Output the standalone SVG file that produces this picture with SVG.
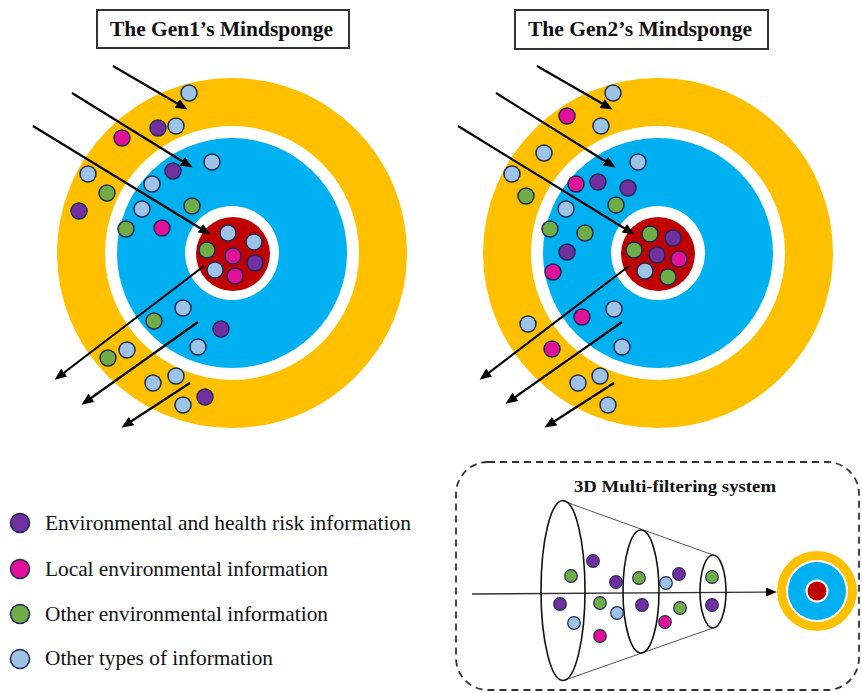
<svg xmlns="http://www.w3.org/2000/svg" width="862" height="693" viewBox="0 0 862 693">
<style>
.yl{fill:#FFC000}.bl{fill:#00B0F0}.wh{fill:#fff}.rd{fill:#C00000}
.d{stroke:#1F2A55;stroke-width:1.5}
.lb{fill:#9DC3E6}.pu{fill:#7030A0}.mg{fill:#E2119A}.gr{fill:#70AD47}
.ttl{font-family:"Liberation Serif","DejaVu Serif","Noto Serif",serif;font-weight:bold;font-size:20px;fill:#111}
.lg{font-family:"Liberation Serif","DejaVu Serif","Noto Serif",serif;font-size:21px;fill:#111}
.box{fill:#fff;stroke:#333;stroke-width:2}
.arr{stroke:#000;stroke-width:2.2;fill:none;marker-end:url(#ah)}
.sd{stroke:#1F2A55;stroke-width:1.2}
</style>
<defs>
<marker id="ah" viewBox="0 0 12 10" refX="9" refY="5" markerWidth="12" markerHeight="10" markerUnits="userSpaceOnUse" orient="auto"><path d="M0,0 L12,5 L0,10 z" fill="#000"/></marker>
<marker id="ah2" viewBox="0 0 12 10" refX="10" refY="5" markerWidth="11" markerHeight="9" markerUnits="userSpaceOnUse" orient="auto"><path d="M0,0 L12,5 L0,10 z" fill="#000"/></marker>
</defs>
<rect width="862" height="693" fill="#fff"/>

<g id="title-gen1"><rect class="box" x="97" y="10" width="252" height="38"/><text class="ttl" x="110" y="36" textLength="223" lengthAdjust="spacingAndGlyphs">The Gen1’s Mindsponge</text></g>
<g id="title-gen2"><rect class="box" x="515" y="10" width="253" height="39"/><text class="ttl" x="528" y="36" textLength="224" lengthAdjust="spacingAndGlyphs">The Gen2’s Mindsponge</text></g>

<g id="mindsponge-gen1">
<circle class="yl" cx="232" cy="253" r="175"/><circle class="wh" cx="232" cy="253" r="127"/><circle class="bl" cx="232" cy="253" r="115"/><circle class="wh" cx="232" cy="253" r="47"/><circle class="rd" cx="233" cy="254" r="37"/>
</g>
<g id="mindsponge-gen2">
<circle class="yl" cx="658" cy="253" r="175"/><circle class="wh" cx="658" cy="253" r="127"/><circle class="bl" cx="658" cy="253" r="115"/><circle class="wh" cx="658" cy="253" r="47"/><circle class="rd" cx="658" cy="254" r="37"/>
</g>

<g id="connectors">
<line class="arr" x1="113" y1="66" x2="185" y2="108"/>
<line class="arr" x1="72" y1="93" x2="190" y2="166"/>
<line class="arr" x1="33" y1="126" x2="208" y2="233"/>
<line class="arr" x1="204" y1="266" x2="57" y2="378"/>
<line class="arr" x1="198" y1="322" x2="84" y2="403"/>
<line class="arr" x1="190" y1="383" x2="124" y2="426"/>
<line class="arr" x1="537" y1="66" x2="610" y2="108"/>
<line class="arr" x1="496" y1="93" x2="613" y2="166"/>
<line class="arr" x1="458" y1="126" x2="632" y2="233"/>
<line class="arr" x1="629" y1="266" x2="482" y2="378"/>
<line class="arr" x1="622" y1="322" x2="508" y2="402"/>
<line class="arr" x1="614" y1="383" x2="547" y2="426"/>
<line x1="472" y1="594" x2="775" y2="592" stroke="#333" stroke-width="1.3" marker-end="url(#ah2)"/>
</g>

<g id="info-gen1">
<g class="d lb"><circle cx="189" cy="93" r="8"/><circle cx="176" cy="126" r="8"/><circle cx="88" cy="174" r="8"/><circle cx="152" cy="184" r="8"/><circle cx="212" cy="162" r="8"/><circle cx="142" cy="209" r="8"/><circle cx="183" cy="308" r="8"/><circle cx="198" cy="347" r="8"/><circle cx="127" cy="350" r="8"/><circle cx="153" cy="383" r="8"/><circle cx="176" cy="376" r="8"/><circle cx="183" cy="405" r="8"/><circle cx="228" cy="233" r="8"/><circle cx="254" cy="242" r="8"/><circle cx="215" cy="270" r="8"/></g>
<g class="d pu"><circle cx="158" cy="128" r="8"/><circle cx="79" cy="211" r="8"/><circle cx="173" cy="171" r="8"/><circle cx="221" cy="329" r="8"/><circle cx="205" cy="397" r="8"/><circle cx="255" cy="263" r="8"/></g>
<g class="d mg"><circle cx="122" cy="138" r="8"/><circle cx="162" cy="228" r="8"/><circle cx="233" cy="256" r="8"/><circle cx="235" cy="276" r="8"/></g>
<g class="d gr"><circle cx="107" cy="193" r="8"/><circle cx="192" cy="206" r="8"/><circle cx="126" cy="229" r="8"/><circle cx="154" cy="321" r="8"/><circle cx="108" cy="358" r="8"/><circle cx="207" cy="250" r="8"/></g>
</g>

<g id="info-gen2">
<g class="d lb"><circle cx="613" cy="93" r="8"/><circle cx="601" cy="126" r="8"/><circle cx="544" cy="153" r="8"/><circle cx="512" cy="174" r="8"/><circle cx="638" cy="162" r="8"/><circle cx="566" cy="209" r="8"/><circle cx="614" cy="309" r="8"/><circle cx="528" cy="324" r="8"/><circle cx="622" cy="347" r="8"/><circle cx="578" cy="383" r="8"/><circle cx="600" cy="376" r="8"/><circle cx="608" cy="405" r="8"/><circle cx="645" cy="271" r="8"/></g>
<g class="d mg"><circle cx="567" cy="116" r="8"/><circle cx="576" cy="184" r="8"/><circle cx="553" cy="272" r="8"/><circle cx="582" cy="317" r="8"/><circle cx="552" cy="349" r="8"/><circle cx="679" cy="259" r="8"/></g>
<g class="d pu"><circle cx="598" cy="182" r="8"/><circle cx="628" cy="188" r="8"/><circle cx="567" cy="252" r="8"/><circle cx="673" cy="238" r="8"/><circle cx="657" cy="255" r="8"/></g>
<g class="d gr"><circle cx="526" cy="196" r="8"/><circle cx="616" cy="205" r="8"/><circle cx="550" cy="229" r="8"/><circle cx="585" cy="233" r="8"/><circle cx="634" cy="250" r="8"/><circle cx="650" cy="234" r="8"/><circle cx="668" cy="277" r="8"/></g>
</g>

<g id="legend">
<g id="legend-risk"><circle class="d pu" cx="20" cy="523" r="9.5"/><text class="lg" x="45" y="530" textLength="366" lengthAdjust="spacingAndGlyphs">Environmental and health risk information</text></g>
<g id="legend-local"><circle class="d mg" cx="20" cy="569" r="9.5"/><text class="lg" x="45" y="576" textLength="283" lengthAdjust="spacingAndGlyphs">Local environmental information</text></g>
<g id="legend-other-env"><circle class="d gr" cx="20" cy="614" r="9.5"/><text class="lg" x="45" y="621" textLength="283" lengthAdjust="spacingAndGlyphs">Other environmental information</text></g>
<g id="legend-other"><circle class="d lb" cx="20" cy="659" r="9.5"/><text class="lg" x="45" y="665" textLength="228" lengthAdjust="spacingAndGlyphs">Other types of information</text></g>
</g>

<g id="filter-system">
<rect x="456" y="462" width="403" height="228" rx="32" ry="32" fill="none" stroke="#333" stroke-width="1.8" stroke-dasharray="7,5"/>
<text class="ttl" x="574" y="492" font-size="17" textLength="202" lengthAdjust="spacingAndGlyphs" style="font-size:17px">3D Multi-filtering system</text>
<line x1="563" y1="501" x2="713" y2="555" stroke="#555" stroke-width="1"/>
<line x1="565" y1="680" x2="713" y2="628" stroke="#555" stroke-width="1"/>
<ellipse cx="563" cy="590.5" rx="22" ry="90" fill="none" stroke="#111" stroke-width="1.6"/>
<ellipse cx="641" cy="591.5" rx="18" ry="61.5" fill="none" stroke="#111" stroke-width="1.6"/>
<ellipse cx="713" cy="591.5" rx="13" ry="36.5" fill="none" stroke="#111" stroke-width="1.6"/>
<g class="sd gr"><circle cx="571" cy="576" r="6.3"/><circle cx="600" cy="603" r="6.3"/><circle cx="639" cy="578" r="6.3"/><circle cx="680" cy="608" r="6.3"/><circle cx="712" cy="577" r="6.3"/></g>
<g class="sd pu"><circle cx="593" cy="561" r="6.3"/><circle cx="560" cy="604" r="6.3"/><circle cx="616" cy="582" r="6.3"/><circle cx="642" cy="605" r="6.3"/><circle cx="679" cy="574" r="6.3"/><circle cx="712" cy="605" r="6.3"/></g>
<g class="sd lb"><circle cx="574" cy="623" r="6.3"/><circle cx="617" cy="613" r="6.3"/><circle cx="666" cy="583" r="6.3"/></g>
<g class="sd mg"><circle cx="600" cy="636" r="6.3"/><circle cx="665" cy="622" r="6.3"/></g>
<g id="mini-mindsponge"><circle class="yl" cx="817" cy="591" r="40"/><circle class="wh" cx="817" cy="591" r="31"/><circle class="bl" cx="817" cy="591" r="29"/><circle class="wh" cx="817" cy="591" r="11.5"/><circle class="rd" cx="817" cy="591" r="9.5"/></g>
</g>
</svg>
